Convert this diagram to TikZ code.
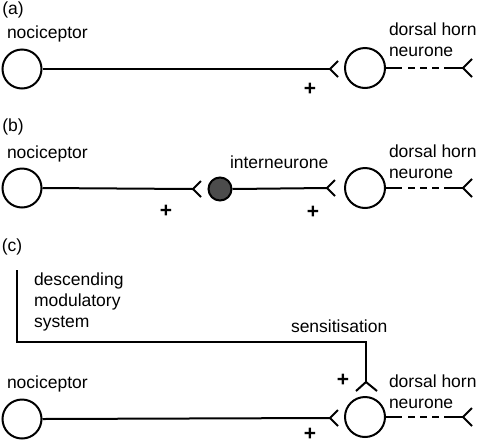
\documentclass[tikz,border=0pt]{standalone}
\usepackage{fontspec}
\setmainfont{Liberation Sans}
\begin{document}
\begin{tikzpicture}[x=1pt,y=-1pt,line width=2pt,
  lbl/.style={font=\fontsize{17.5}{20}\selectfont,inner sep=0pt,anchor=base west},
  cell/.style={circle,draw,line width=2pt,minimum size=39pt,inner sep=0pt},
  inter/.style={circle,draw,fill=black!70,line width=2pt,minimum size=23pt,inner sep=0pt},
  plus/.style={font=\fontsize{21}{21}\selectfont\bfseries,inner sep=0pt,anchor=base},
  dsh/.style={dash pattern=on 7pt off 5pt}]
\useasboundingbox (0,0) rectangle (481,445);

% ---------- (a)
\node[font=\fontsize{17.5}{20}\selectfont,inner sep=0pt] (la) at (13,10) {(a)};
\node[lbl] (na) at (6,38) {nociceptor};
\node[cell] (ca) at (22,69) {};
\coordinate (sa) at (330,69);
\draw (ca.east) -- (sa);
\draw (sa) ++(8,-8) -- (sa) -- ++(8,8);
\node[cell,minimum size=40pt] (da) at (365,68) {};
\node[lbl] (dta) at (388,35) {dorsal horn};
\node[lbl] (dtb) at (388,56) {neurone};
\coordinate (ea1) at (402,68);
\coordinate (ea2) at (408,68);
\coordinate (ea3) at (447,68);
\coordinate (ea) at (463,68);
\draw (da.east) -- (ea1);
\draw[dsh] (ea2) -- (ea3);
\draw (ea3) -- (ea);
\draw (ea) ++(9,-9) -- (ea) -- ++(9,9);
\node[plus] (pa) at (310,95) {+};

% ---------- (b)
\node[font=\fontsize{17.5}{20}\selectfont,inner sep=0pt] (lb) at (13,127) {(b)};
\node[lbl] (nb) at (6,158) {nociceptor};
\node[cell] (cb) at (22,188) {};
\coordinate (sb1) at (193,189);
\draw (cb.east) -- (sb1);
\draw (sb1) ++(8,-8) -- (sb1) -- ++(8,8);
\node[inter] (ib) at (220,189) {};
\node[lbl] (it) at (229,168) {interneurone};
\coordinate (sb2) at (327,188);
\draw (ib.east) -- (sb2);
\draw (sb2) ++(8,-8) -- (sb2) -- ++(8,8);
\node[cell,minimum size=40pt] (db) at (365,188) {};
\node[lbl] (dtc) at (388,157) {dorsal horn};
\node[lbl] (dtd) at (388,178) {neurone};
\coordinate (eb1) at (402,188);
\coordinate (eb2) at (408,188);
\coordinate (eb3) at (447,188);
\coordinate (eb) at (463,188);
\draw (db.east) -- (eb1);
\draw[dsh] (eb2) -- (eb3);
\draw (eb3) -- (eb);
\draw (eb) ++(9,-9) -- (eb) -- ++(9,9);
\node[plus] (pb1) at (166,217) {+};
\node[plus] (pb2) at (313,218) {+};

% ---------- (c)
\node[font=\fontsize{17.5}{20}\selectfont,inner sep=0pt] (lc) at (12,247) {(c)};
\node[lbl] (ds1) at (33,285) {descending};
\node[lbl] (ds2) at (33,306) {modulatory};
\node[lbl] (ds3) at (33,327) {system};
\node[lbl] (sen) at (290,332) {sensitisation};
\coordinate (dtop) at (17,270);
\coordinate (dcor) at (17,342);
\coordinate (dcor2) at (366,342);
\coordinate (sc0) at (366,382);
\draw (dtop) -- (dcor) -- (dcor2) -- (sc0);
\draw (sc0) ++(-10,9) -- (sc0) -- ++(11,9);
\node[plus] (pc1) at (343,386) {+};
\node[lbl] (nc) at (6,388) {nociceptor};
\node[cell] (cc) at (22,419) {};
\coordinate (sc) at (330,418);
\draw (cc.east) -- (sc);
\draw (sc) ++(8,-8) -- (sc) -- ++(8,8);
\node[cell,minimum size=40pt] (dc) at (365,417) {};
\node[lbl] (dte) at (388,387) {dorsal horn};
\node[lbl] (dtf) at (388,408) {neurone};
\coordinate (ec1) at (402,417);
\coordinate (ec2) at (408,417);
\coordinate (ec3) at (447,417);
\coordinate (ec) at (463,417);
\draw (dc.east) -- (ec1);
\draw[dsh] (ec2) -- (ec3);
\draw (ec3) -- (ec);
\draw (ec) ++(9,-9) -- (ec) -- ++(9,9);
\node[plus] (pc2) at (310,440) {+};
\end{tikzpicture}
\end{document}
